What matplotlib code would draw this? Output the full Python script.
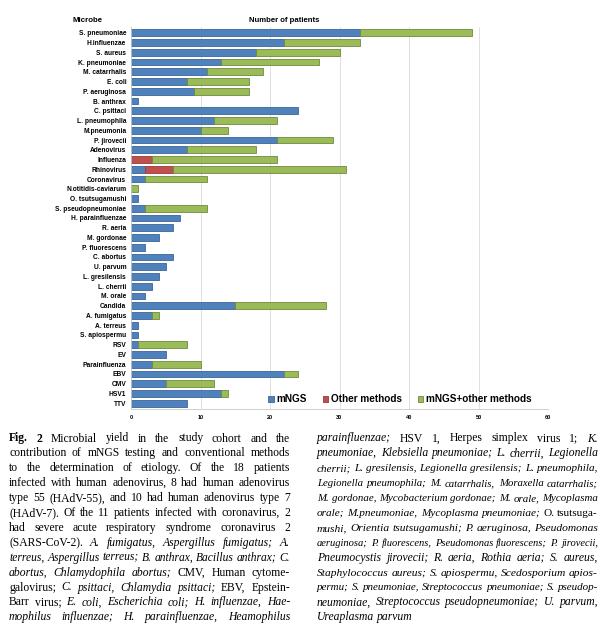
import re
import matplotlib.pyplot as plt
import numpy as np

microbes = ["S. pneumoniae", "H.influenzae", "S. aureus", "K. pneumoniae", "M. catarrhalis",
            "E. coli", "P. aeruginosa", "B. anthrax", "C. psittaci", "L. pneumophila",
            "M.pneumonia", "P. jirovecii", "Adenovirus", "Influenza", "Rhinovirus",
            "Coronavirus", "N.otitidis-caviarum", "O. tsutsugamushi", "S. pseudopneumoniae",
            "H. parainfluenzae", "R. aeria", "M. gordonae", "P. fluorescens", "C. abortus",
            "U. parvum", "L. gresilensis", "L. cherrii", "M. orale", "Candida",
            "A. fumigatus", "A. terreus", "S. apiospermu", "RSV", "EV", "Parainfluenza",
            "EBV", "CMV", "HSV1", "TTV"]
mngs = [33, 22, 18, 13, 11, 8, 9, 1, 24, 12, 10, 21, 8, 0, 2, 2, 0, 1, 2, 7, 6, 4, 2, 6,
        5, 4, 3, 2, 15, 3, 1, 1, 1, 5, 3, 22, 5, 13, 8]
other_methods = [0, 0, 0, 0, 0, 0, 0, 0, 0, 0, 0, 0, 0, 3, 4, 0, 0, 0, 0, 0, 0, 0, 0, 0,
                 0, 0, 0, 0, 0, 0, 0, 0, 0, 0, 0, 0, 0, 0, 0]
mngs_plus_other = [16, 11, 12, 14, 8, 9, 8, 0, 0, 9, 4, 8, 10, 18, 25, 9, 1, 0, 9, 0, 0, 0,
                   0, 0, 0, 0, 0, 0, 13, 1, 0, 0, 7, 0, 7, 2, 7, 1, 0]
series_names = ["mNGS", "Other methods", "mNGS+other methods"]
xticks = [0, 10, 20, 30, 40, 50, 60]

# caption lines: *italic*  #bold#
caption_left = [
    "#Fig. 2# Microbial yield in the study cohort and the",
    "contribution of mNGS testing and conventional methods",
    "to the determination of etiology. Of the 18 patients",
    "infected with human adenovirus, 8 had human adenovirus",
    "type 55 (HAdV-55), and 10 had human adenovirus type 7",
    "(HAdV-7). Of the 11 patients infected with coronavirus, 2",
    "had severe acute respiratory syndrome coronavirus 2",
    "(SARS-CoV-2). *A. fumigatus, Aspergillus fumigatus; A.*",
    "*terreus, Aspergillus terreus; B. anthrax, Bacillus anthrax; C.*",
    "*abortus, Chlamydophila abortus;* CMV, Human cytome-",
    "galovirus; *C. psittaci, Chlamydia psittaci;* EBV, Epstein-",
    "Barr virus; *E. coli, Escherichia coli; H. influenzae, Hae-*",
    "*mophilus influenzae; H. parainfluenzae, Heamophilus*",
]
caption_right = [
    "*parainfluenzae;* HSV 1, Herpes simplex virus 1; *K.*",
    "*pneumoniae, Klebsiella pneumoniae; L. cherrii, Legionella*",
    "*cherrii; L. gresilensis, Legionella gresilensis; L. pneumophila,*",
    "*Legionella pneumophila; M. catarrhalis, Moraxella catarrhalis;*",
    "*M. gordonae, Mycobacterium gordonae; M. orale, Mycoplasma*",
    "*orale; M.pneumoniae, Mycoplasma pneumoniae;* O. tsutsuga-",
    "*mushi, Orientia tsutsugamushi; P. aeruginosa, Pseudomonas*",
    "*aeruginosa; P. fluorescens, Pseudomonas fluorescens; P. jirovecii,*",
    "*Pneumocystis jirovecii; R. aeria, Rothia aeria; S. aureus,*",
    "*Staphylococcus aureus; S. apiospermu, Scedosporium apios-*",
    "*permu; S. pneumoniae, Streptococcus pneumoniae; S. pseudop-*",
    "*neumoniae, Streptococcus pseudopneumoniae; U. parvum,*",
    "*Ureaplasma parvum*",
]

W, H = 607, 631
fig = plt.figure(figsize=(W / 100, H / 100), dpi=100)
ax = fig.add_axes([131 / W, 1 - 409 / H, 417 / W, 382 / H])

y = np.arange(len(microbes))
a = np.array(mngs)
b = np.array(other_methods)
c = np.array(mngs_plus_other)
bar_h = 0.7

for vals, left, col, edge, name in [(a, np.zeros_like(a), '#4F81BD', '#3B6596', series_names[0]),
                                    (b, a, '#C0504D', '#923C3A', series_names[1]),
                                    (c, a + b, '#9BBB59', '#6F8A3C', series_names[2])]:
    m = vals > 0
    ax.barh(y[m], vals[m], bar_h, left=left[m], color=col, edgecolor=edge,
            linewidth=0.6, label=name)

ax.set_ylim(38.6, -0.6)
ax.set_xlim(0, 60)
ax.set_xticks(xticks)
ax.set_xticklabels([str(t) for t in xticks], fontsize=4, fontweight='bold',
                   family='Liberation Sans')
ax.set_yticks(y)
ax.set_yticklabels(microbes, fontsize=4.8, fontweight='bold', family='Liberation Sans')
ax.tick_params(axis='y', length=0, pad=3.5)
ax.tick_params(axis='x', length=0, pad=4)
ax.xaxis.grid(True, color='#DCDCDC', linewidth=0.6)
ax.set_axisbelow(True)
for s in ['top', 'right']:
    ax.spines[s].set_visible(False)
for s in ['left', 'bottom']:
    ax.spines[s].set_color('#C8C8C8')
    ax.spines[s].set_linewidth(0.6)

ax.legend(loc='center right', bbox_to_anchor=(0.97, 0.025), ncol=3, frameon=False,
          prop={'family': 'Liberation Sans', 'weight': 'bold', 'size': 7.2},
          handlelength=0.55, handleheight=0.55, handletextpad=0.25, columnspacing=1.6,
          borderaxespad=0)

fig.text(88 / W, 1 - 21 / H, "Microbe", ha='center', va='center', fontsize=5.7,
         fontweight='bold', family='Liberation Sans')
fig.text(284 / W, 1 - 21 / H, "Number of patients", ha='center', va='center', fontsize=5.6,
         fontweight='bold', family='Liberation Sans')

# caption, justified line by line
renderer = fig.canvas.get_renderer()
cap_size = 8.4


def words_of(line):
    out = []
    for m in re.finditer(r'\*[^*]*\*|#[^#]*#|[^*#]+', line):
        chunk = m.group(0)
        style, weight = 'normal', 'normal'
        if chunk.startswith('*'):
            style, chunk = 'italic', chunk[1:-1]
        elif chunk.startswith('#'):
            weight, chunk = 'bold', chunk[1:-1]
        for w in chunk.split():
            out.append((w, style, weight))
    return out


def draw_line(line, x0, x1, ybase, justify):
    size = cap_size
    words = words_of(line)
    for _ in range(4):
        texts = [fig.text(0, 0, w, fontsize=size, style=st, fontweight=wt,
                          family='Liberation Serif', va='baseline', ha='left')
                 for w, st, wt in words]
        widths = [t.get_window_extent(renderer).width for t in texts]
        space = size * 100 / 72 * 0.25
        natural = sum(widths) + space * (len(words) - 1)
        if natural <= (x1 - x0) or size < 6:
            break
        for t in texts:
            t.remove()
        size *= (x1 - x0) / natural * 0.995
    gap = space
    if justify and len(words) > 1:
        gap = (x1 - x0 - sum(widths)) / (len(words) - 1)
    x = x0
    for t, w in zip(texts, widths):
        t.set_position((x / W, 1 - ybase / H))
        x += w + gap


line_dy = 14.9
for col, (lines, x0, x1) in enumerate([(caption_left, 9, 290), (caption_right, 317, 598)]):
    for i, line in enumerate(lines):
        last = (col == 1 and i == len(lines) - 1)
        draw_line(line, x0, x1, 441.5 + i * line_dy, not last)

fig.savefig("out.png", dpi=100)
